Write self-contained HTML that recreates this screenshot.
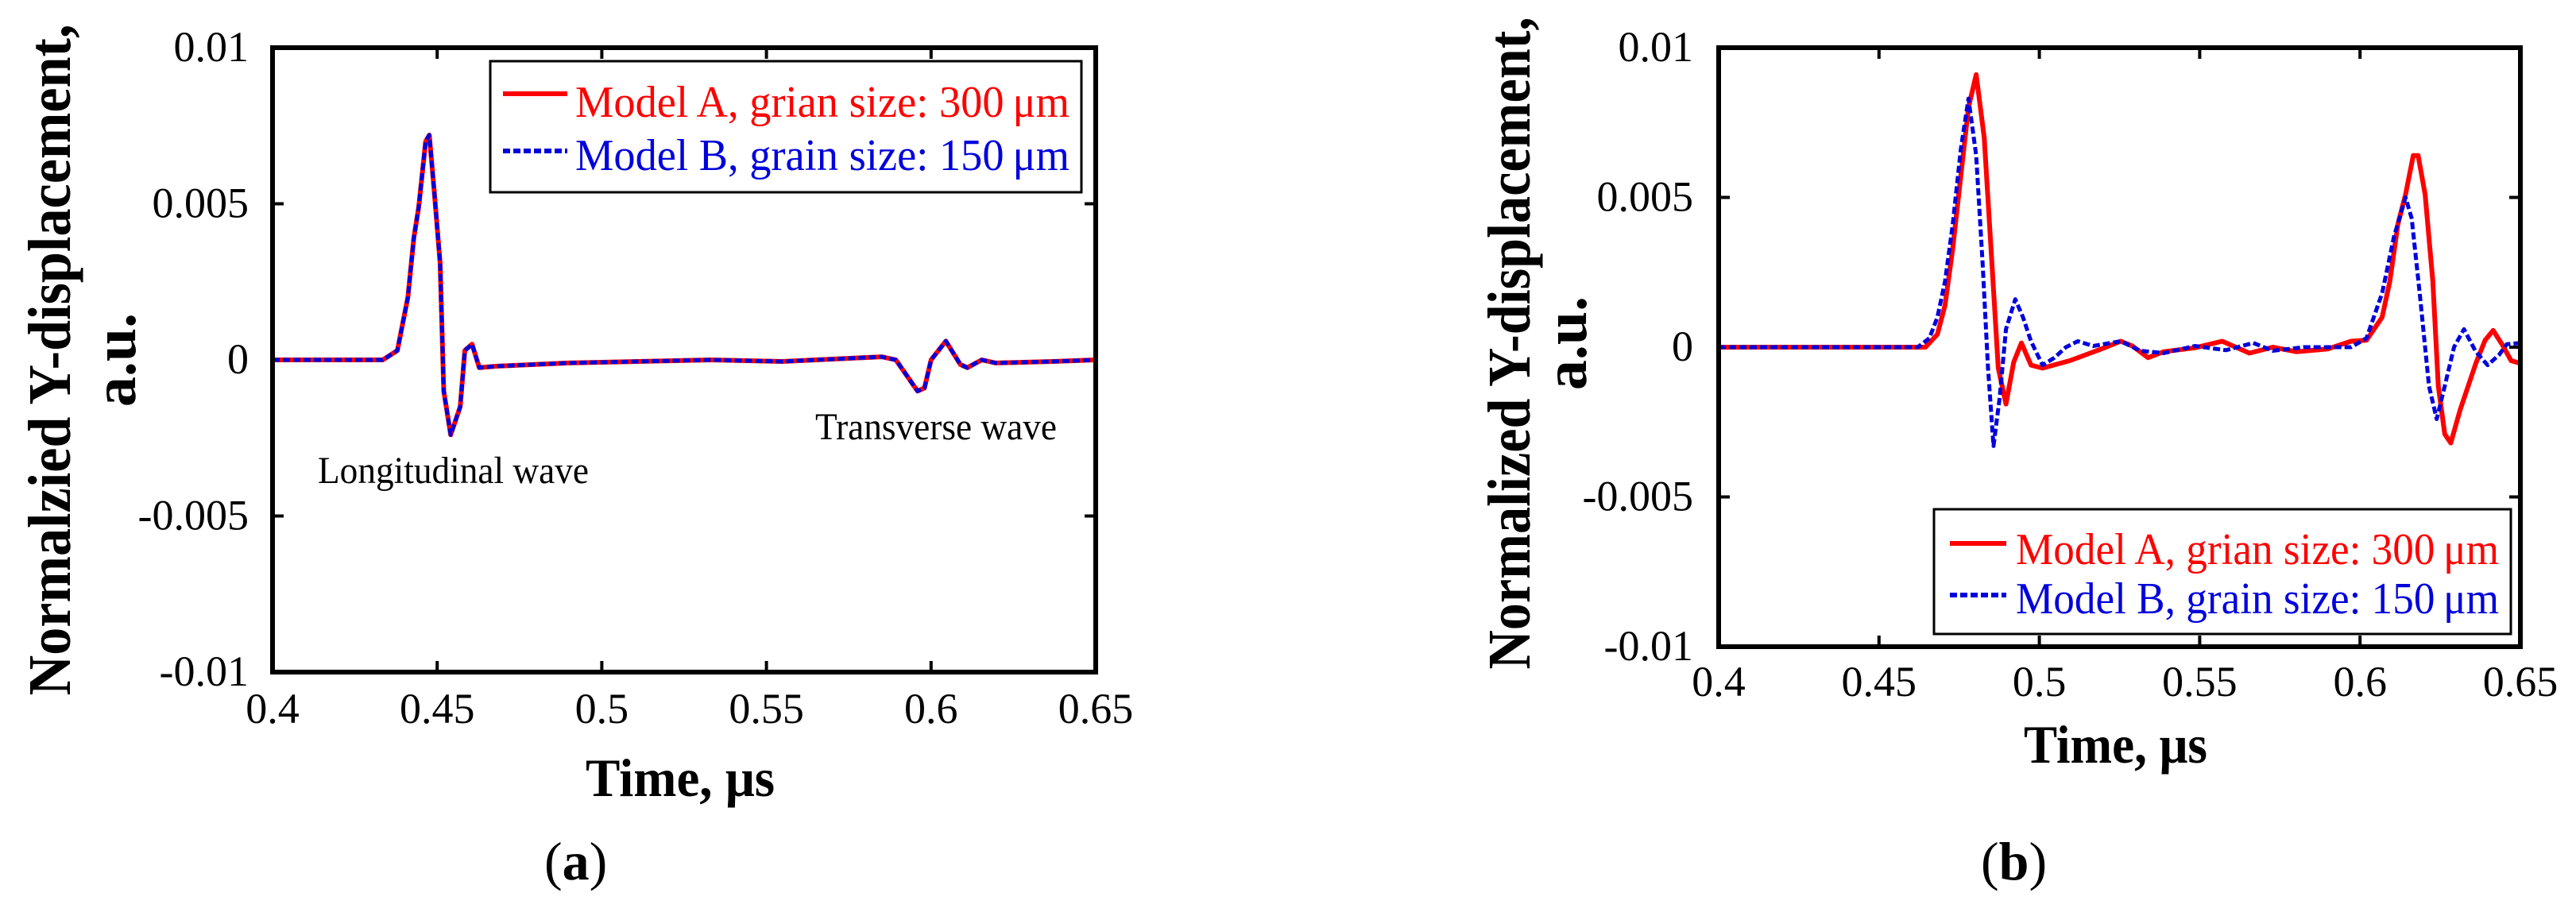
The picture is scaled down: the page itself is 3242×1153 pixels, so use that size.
<!DOCTYPE html>
<html><head><meta charset="utf-8"><style>
html,body{margin:0;padding:0;background:#fff;}
svg{display:block;font-family:"Liberation Serif",serif;}
svg text{font-family:"Liberation Serif",serif;}
</style></head><body>
<svg id="fig" width="3242" height="1153" viewBox="0 0 3242 1153" xmlns="http://www.w3.org/2000/svg" font-family="Liberation Serif, serif">
<rect width="3242" height="1153" fill="#fff"/>
<g id="chartA"></g>
<g id="chartB"></g>
</svg>
<script>
// ---- data ----
const xTicks = [0.4, 0.45, 0.5, 0.55, 0.6, 0.65];
const xTickLabels = ["0.4", "0.45", "0.5", "0.55", "0.6", "0.65"];
const yTicks = [-0.01, -0.005, 0, 0.005, 0.01];
const yTickLabels = ["-0.01", "-0.005", "0", "0.005", "0.01"];

const aTime = [0.4, 0.4335, 0.4379, 0.4411, 0.4429, 0.4444, 0.4465, 0.4476, 0.4491, 0.4509, 0.452, 0.4541, 0.457, 0.4584, 0.4606, 0.4628, 0.4682, 0.4898, 0.533, 0.5548, 0.585, 0.5893, 0.5959, 0.598, 0.6, 0.6045, 0.6089, 0.611, 0.6154, 0.6197, 0.6369, 0.65];
const aModelA = [0, 0, 0.0003, 0.002, 0.0039, 0.0049, 0.007, 0.0072, 0.0054, 0.0031, -0.001, -0.0024, -0.0015, 0.0003, 0.0005, -0.00025, -0.0002, -0.0001, 0, -0.00005, 0.0001, 0, -0.001, -0.0009, 0, 0.0006, -0.00015, -0.00025, 0, -0.0001, -0.00005, 0];
const aModelB = [0, 0, 0.0003, 0.002, 0.0039, 0.0049, 0.007, 0.0072, 0.0054, 0.0031, -0.001, -0.0024, -0.0015, 0.0003, 0.0005, -0.00025, -0.0002, -0.0001, 0, -0.00005, 0.0001, 0, -0.001, -0.0009, 0, 0.0006, -0.00015, -0.00025, 0, -0.0001, -0.00005, 0];

const bTimeA = [0.4, 0.4645, 0.4682, 0.4706, 0.473, 0.4755, 0.4779, 0.4803, 0.4828, 0.4852, 0.4872, 0.4896, 0.492, 0.4944, 0.4974, 0.501, 0.5095, 0.5193, 0.5254, 0.529, 0.5339, 0.5388, 0.5485, 0.557, 0.5655, 0.5728, 0.5801, 0.5899, 0.5972, 0.602, 0.6069, 0.6093, 0.6118, 0.6142, 0.6166, 0.6181, 0.6203, 0.6227, 0.6244, 0.6264, 0.6283, 0.6312, 0.6361, 0.639, 0.6415, 0.6446, 0.6471, 0.65];
const bModelA = [0, 0, 0.00043, 0.0014, 0.0033, 0.0057, 0.008, 0.0091, 0.007, 0.0028, -0.0007, -0.0019, -0.0005, 0.00014, -0.0006, -0.0007, -0.00045, -0.00006, 0.0002, 0.00004, -0.00035, -0.00015, -0.00002, 0.0002, -0.0002, 0, -0.00015, -0.00006, 0.0002, 0.00023, 0.001, 0.0022, 0.0041, 0.0051, 0.0064, 0.0064, 0.0051, 0.0022, -0.0013, -0.0029, -0.0032, -0.0021, -0.00054, 0.00023, 0.00056, 0.00004, -0.00045, -0.00054];
const bTimeB = [0.4, 0.4621, 0.4657, 0.4682, 0.4706, 0.473, 0.4755, 0.4779, 0.4803, 0.4823, 0.484, 0.4857, 0.4876, 0.4896, 0.4925, 0.4949, 0.4974, 0.501, 0.5047, 0.5083, 0.512, 0.5168, 0.5254, 0.5315, 0.5388, 0.5485, 0.5582, 0.5667, 0.5728, 0.5826, 0.5972, 0.602, 0.6069, 0.6106, 0.6142, 0.6161, 0.6186, 0.6215, 0.6239, 0.6264, 0.6293, 0.6324, 0.6361, 0.6398, 0.6434, 0.6458, 0.65];
const bModelB = [0, 0, 0.0003, 0.001, 0.0022, 0.0041, 0.0066, 0.0083, 0.0064, 0.0028, -0.0007, -0.0033, -0.0017, 0.0006, 0.0016, 0.001, 0.0002, -0.0006, -0.00035, 0, 0.0002, 0.00004, 0.0002, -0.00012, -0.0002, 0.00004, -0.0001, 0.00014, -0.00012, 0, 0, 0.0003, 0.0018, 0.0037, 0.005, 0.0043, 0.0018, -0.0013, -0.0024, -0.0013, 0, 0.0006, -0.00015, -0.0006, -0.00025, 0.0001, 0.00014];

const NS = "http://www.w3.org/2000/svg";
const FONT = "Liberation Serif, serif";
function mk(parent, tag, attrs, text) {
  const e = document.createElementNS(NS, tag);
  for (const k in attrs) e.setAttribute(k, attrs[k]);
  if (tag === "text") e.setAttribute("font-family", FONT);
  if (text !== undefined) e.textContent = text;
  parent.appendChild(e);
  return e;
}

function drawChart(g, cfg) {
  const L = cfg.left, R = cfg.right, T = cfg.top, B = cfg.bottom;
  const xs = v => L + (v - 0.4) / 0.25 * (R - L);
  const ys = v => B - (v + 0.01) / 0.02 * (B - T);
  xTicks.forEach((t, i) => {
    const x = xs(t);
    const tk = mk(g, "path", {d: `M${x},${B}v-14M${x},${T}v14`, stroke: "#000", "stroke-width": 4});
    
    
    const lb = mk(g, "text", {x: x, y: cfg.xLabelY, "text-anchor": "middle", "font-size": 54}, xTickLabels[i]);
    
    
  });
  yTicks.forEach((t, i) => {
    const y = ys(t);
    const tk = mk(g, "path", {d: `M${L},${y}h14M${R},${y}h-14`, stroke: "#000", "stroke-width": 4});
    
    
    const lb = mk(g, "text", {x: cfg.yLabelX, y: y + 17, "text-anchor": "end", "font-size": 54}, yTickLabels[i]);
    
    
  });
  cfg.series.forEach(s => {
    let d = "";
    s.t.forEach((t, i) => { d += (i ? "L" : "M") + xs(t).toFixed(1) + "," + ys(s.v[i]).toFixed(1); });
    const p = mk(g, "path", {d: d, fill: "none", stroke: s.color, "stroke-width": s.w, "stroke-linejoin": "round"});
    if (s.dash) p.setAttribute("stroke-dasharray", s.dash);
    
    
  });
  const fr = mk(g, "rect", {x: L, y: T, width: R - L, height: B - T, fill: "none", stroke: "#000", "stroke-width": 6});
  
  
  const lg = cfg.legend;
  const lgG = mk(g, "g", {});
  
  
  mk(lgG, "rect", {x: lg.x, y: lg.y, width: lg.w, height: lg.h, fill: "#fff", stroke: "#000", "stroke-width": 3});
  const la = mk(lgG, "line", {x1: lg.lx1, x2: lg.lx2, y1: lg.ly1, y2: lg.ly1, stroke: "#ff0000", "stroke-width": 6});
  
  
  const lb2 = mk(lgG, "line", {x1: lg.lx1, x2: lg.lx2, y1: lg.ly2, y2: lg.ly2, stroke: "#0000dd", "stroke-width": 6, "stroke-dasharray": "9 4"});
  
  
  const ta = mk(lgG, "text", {x: lg.tx, y: lg.b1, "font-size": 56, fill: "#ff0000", textLength: lg.tw, lengthAdjust: "spacingAndGlyphs"}, "Model A, grian size: 300\u2009\u03bcm");
  
  
  const tb = mk(lgG, "text", {x: lg.tx, y: lg.b2, "font-size": 56, fill: "#0000dd", textLength: lg.tw, lengthAdjust: "spacingAndGlyphs"}, "Model B, grain size: 150\u2009\u03bcm");
  
  
  const yt = cfg.yTitle;
  const y1 = mk(g, "text", {transform: `translate(${yt.x1},${yt.cy}) rotate(-90)`, "text-anchor": "middle", "font-size": 76, "font-weight": "bold", textLength: yt.len, lengthAdjust: "spacingAndGlyphs"}, cfg.name === "b" ? "Normalized Y-displacement," : "Normalzied Y-displacement,");
  
  
  const y2 = mk(g, "text", {transform: `translate(${yt.x2},${yt.cy}) rotate(-90)`, "text-anchor": "middle", "font-size": 76, "font-weight": "bold"}, "a.u.");
  
  
  const xt = mk(g, "text", {x: cfg.xTitle.x, y: cfg.xTitle.y, "font-size": 68, "font-weight": "bold", textLength: cfg.xTitle.len, lengthAdjust: "spacingAndGlyphs"}, "Time, \u03bcs");
  
  
  const cap = mk(g, "text", {x: cfg.cap.x, y: 1107, "font-size": 68}, "");
  mk(cap, "tspan", {}, "(");
  mk(cap, "tspan", {"font-weight": "bold"}, cfg.name);
  mk(cap, "tspan", {}, ")");
  
  
}

const gA = document.getElementById("chartA");
drawChart(gA, {
  name: "a", left: 343, right: 1379, top: 60, bottom: 846, xLabelY: 910, yLabelX: 313,
  series: [
    {t: aTime, v: aModelA, color: "#ff0000", w: 6, name: "line-model-a"},
    {t: aTime, v: aModelB, color: "#0000dd", w: 5, dash: "9 4", name: "line-model-b"}
  ],
  legend: {x: 617, y: 77, w: 744, h: 165, lx1: 633, lx2: 714, ly1: 118, ly2: 190, tx: 724, tw: 622, b1: 147, b2: 214},
  yTitle: {x1: 88, x2: 170, cy: 453, len: 845},
  xTitle: {x: 737, y: 1002, len: 238},
  cap: {x: 685}
});
const annL = mk(gA, "text", {x: 400, y: 608, "font-size": 48, textLength: 341, lengthAdjust: "spacingAndGlyphs"}, "Longitudinal wave");


const annT = mk(gA, "text", {x: 1026, y: 553, "font-size": 48, textLength: 304, lengthAdjust: "spacingAndGlyphs"}, "Transverse wave");



drawChart(document.getElementById("chartB"), {
  name: "b", left: 2163, right: 3172, top: 60, bottom: 814, xLabelY: 876, yLabelX: 2131,
  series: [
    {t: bTimeA, v: bModelA, color: "#ff0000", w: 6, name: "line-model-a"},
    {t: bTimeB, v: bModelB, color: "#0000dd", w: 5, dash: "9 4", name: "line-model-b"}
  ],
  legend: {x: 2434, y: 641, w: 726, h: 157, lx1: 2454, lx2: 2525, ly1: 684, ly2: 749, tx: 2537, tw: 608, b1: 710, b2: 772},
  yTitle: {x1: 1925, x2: 1996, cy: 432, len: 821},
  xTitle: {x: 2547, y: 960, len: 231},
  cap: {x: 2493}
});
</script>
</body></html>
